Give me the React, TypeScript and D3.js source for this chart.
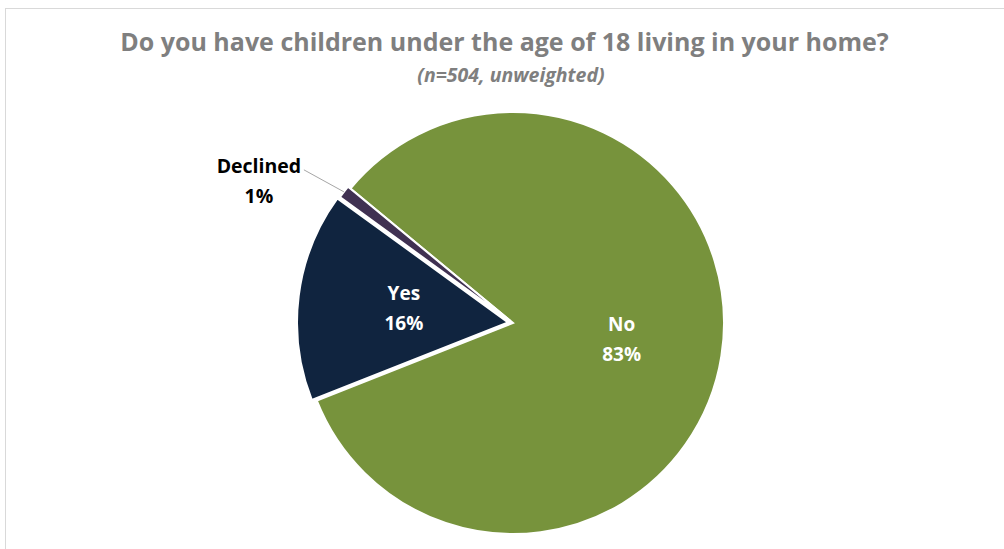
import React from "react";
import * as d3 from "d3";

const categories = ["No", "Yes", "Declined"];
const values = [83, 16, 1];
const colors = ["#77933C", "#10243F", "#403152"];
const title = "Do you have children under the age of 18 living in your home?";
const subtitle = "(n=504, unweighted)";

const W = 1004;
const H = 549;
const cx = 513;
const cy = 323;
const R = 211;
const startDeg = 309.6;

export default function App() {
  const data = categories.map((c, i) => ({ c, v: values[i], color: colors[i] }));
  const start = (startDeg * Math.PI) / 180;
  const pie = d3
    .pie<any>()
    .value((d) => d.v)
    .sort(null)
    .startAngle(start)
    .endAngle(start + 2 * Math.PI);
  const arcs = pie(data);
  const arc = d3.arc<any>().innerRadius(0).outerRadius(R);
  const labelArc = d3.arc<any>().innerRadius(110).outerRadius(110);
  const explode: Record<string, number> = { No: 0, Yes: 5, Declined: 3 };
  const font = "'Open Sans', 'Liberation Sans', sans-serif";

  return (
    <svg
      width={W}
      height={H}
      style={{ position: "absolute", left: 0, top: 0, background: "#fff" }}
      fontFamily={font}
    >
      <rect x={5.5} y={8.5} width={1010} height={560} fill="#fff" stroke="#D9D9D9" strokeWidth={1} />
      <text x={504.5} y={51} textAnchor="middle" fontSize={25} fontWeight={700} fill="#7F7F7F">
        {title}
      </text>
      <text x={511} y={82} textAnchor="middle" fontSize={19.5} fontWeight={700} fontStyle="italic" fill="#7F7F7F">
        {subtitle}
      </text>
      <g transform={`translate(${cx},${cy})`}>
        {arcs.map((a: any) => {
          const mid = (a.startAngle + a.endAngle) / 2;
          const off = explode[a.data.c] || 0;
          const dx = Math.sin(mid) * off;
          const dy = -Math.cos(mid) * off;
          return (
            <path
              key={a.data.c}
              d={arc(a) as string}
              transform={`translate(${dx},${dy})`}
              fill={a.data.color}
              stroke="#fff"
              strokeWidth={2}
              strokeLinejoin="miter"
            />
          );
        })}
        {arcs.map((a: any) => {
          if (a.data.c === "Declined") {
            const mid = (a.startAngle + a.endAngle) / 2;
            const px = Math.sin(mid) * (R + 3);
            const py = -Math.cos(mid) * (R + 3);
            const ex = px - 40;
            const ey = py - 22;
            return (
              <g key={a.data.c + "l"}>
                <line x1={px} y1={py} x2={ex} y2={ey} stroke="#A6A6A6" strokeWidth={1} />
                <text x={ex - 45} y={ey + 3} textAnchor="middle" fontSize={19.5} fontWeight={700} fill="#000">
                  {a.data.c}
                </text>
                <text x={ex - 45} y={ey + 33} textAnchor="middle" fontSize={19.5} fontWeight={700} fill="#000">
                  {a.data.v + "%"}
                </text>
              </g>
            );
          }
          const [lx, ly] = labelArc.centroid(a);
          return (
            <g key={a.data.c + "l"}>
              <text x={lx} y={ly - 9} textAnchor="middle" fontSize={19} fontWeight={700} fill="#fff">
                {a.data.c}
              </text>
              <text x={lx} y={ly + 21} textAnchor="middle" fontSize={19} fontWeight={700} fill="#fff">
                {a.data.v + "%"}
              </text>
            </g>
          );
        })}
      </g>
    </svg>
  );
}
